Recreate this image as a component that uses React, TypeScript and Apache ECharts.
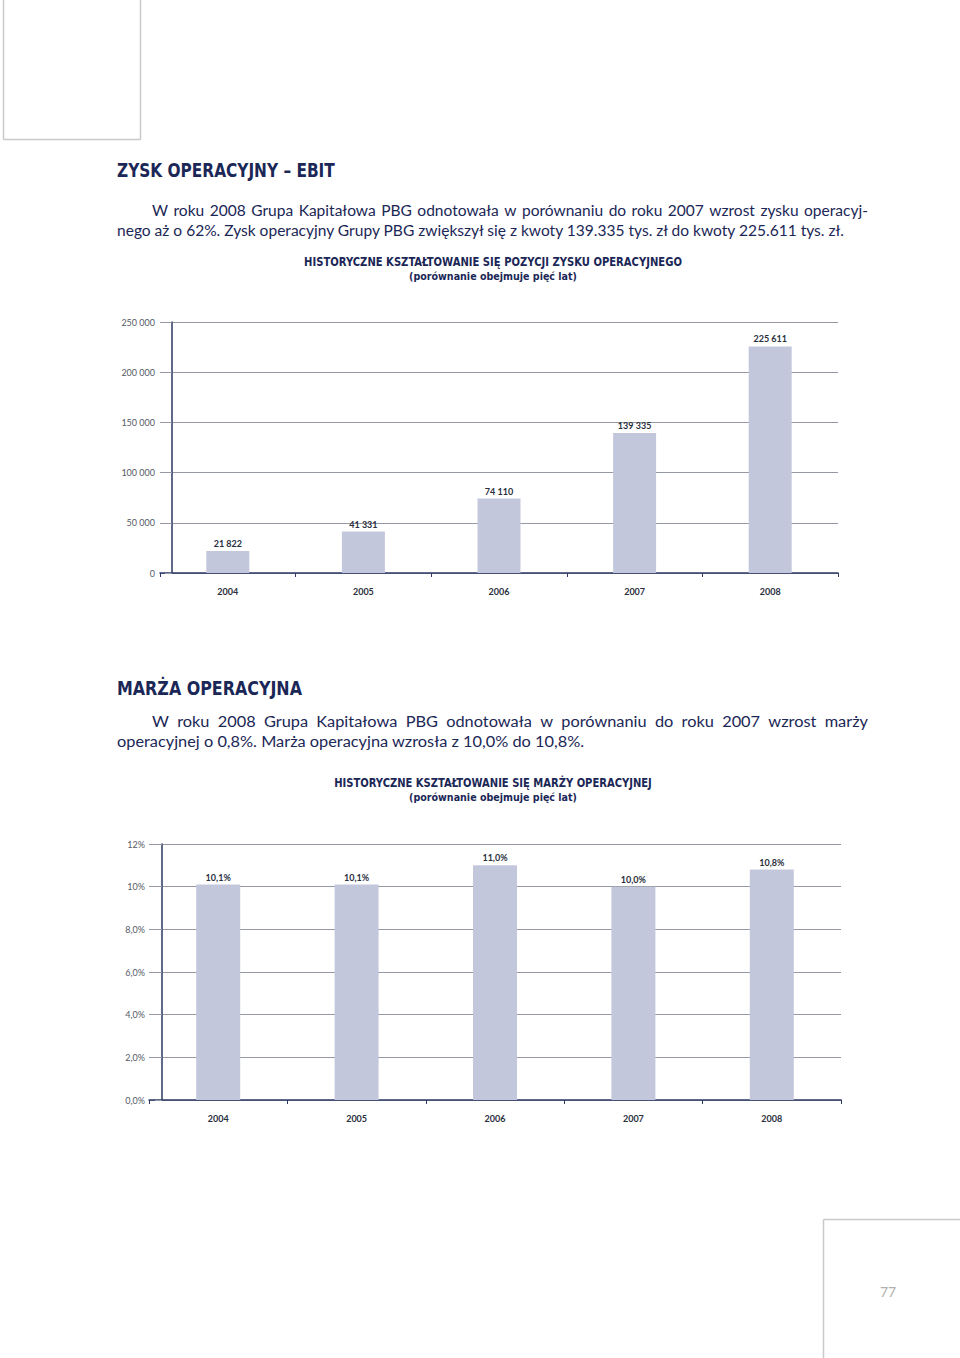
import React, { useEffect, useRef } from 'react';
import * as echarts from 'echarts';

// ---------- data ----------
const years = ['2004', '2005', '2006', '2007', '2008'];
const ebitValues = [21822, 41331, 74110, 139335, 225611];
const marginValues = [10.1, 10.1, 11.0, 10.0, 10.8];
const ebitAxis = { min: 0, max: 250000, step: 50000 };
const marginAxis = { min: 0, max: 12, step: 2 };

// ---------- texts ----------
const heading1 = 'ZYSK OPERACYJNY – EBIT';
const para1 = [
  'W roku 2008 Grupa Kapitałowa PBG odnotowała w porównaniu do roku 2007 wzrost zysku operacyj-',
  'nego aż o 62%. Zysk operacyjny Grupy PBG zwiększył się z kwoty 139.335 tys. zł do kwoty 225.611 tys. zł.',
];
const chart1Title = 'HISTORYCZNE KSZTAŁTOWANIE SIĘ POZYCJI ZYSKU OPERACYJNEGO';
const subtitle = '(porównanie obejmuje pięć lat)';
const heading2 = 'MARŻA OPERACYJNA';
const para2 = [
  'W roku 2008 Grupa Kapitałowa PBG odnotowała w porównaniu do roku 2007 wzrost marży',
  'operacyjnej o 0,8%. Marża operacyjna wzrosła z 10,0% do 10,8%.',
];
const chart2Title = 'HISTORYCZNE KSZTAŁTOWANIE SIĘ MARŻY OPERACYJNEJ';
const pageNumber = '77';

// ---------- styles ----------
const NAVY = '#1b2756';
const AXIS = '#2e3866';
const GRIDC = '#9499a3';
const BAR = '#c3c7db';
const HEAD_FAMILY = '"Liberation Sans Narrow", "DejaVu Sans Condensed", "Roboto Condensed", "Open Sans", sans-serif';
const BODY_FAMILY = 'Lato, "Open Sans", sans-serif';
const LABEL_FAMILY = 'Lato, "Open Sans", sans-serif';

type FontSpec = { size: number; weight: string; family: string };

let measureCtx: CanvasRenderingContext2D | null = null;
function measure(text: string, f: FontSpec): number {
  if (!measureCtx) measureCtx = document.createElement('canvas').getContext('2d');
  if (!measureCtx) return text.length * f.size * 0.5;
  measureCtx.font = `${f.weight} ${f.size}px ${f.family}`;
  return measureCtx.measureText(text).width;
}

function textEl(text: string, x: number, y: number, f: FontSpec, fill: string, align: string, scaleX = 1) {
  return {
    type: 'text',
    x,
    y,
    scaleX,
    silent: true,
    style: {
      text,
      fontSize: f.size,
      fontWeight: f.weight,
      fontFamily: f.family,
      fill,
      textAlign: align,
      verticalAlign: 'middle',
      textVerticalAlign: 'middle',
    },
  };
}

function fitLeft(text: string, x0: number, x1: number, y: number, f: FontSpec, fill: string) {
  const w = measure(text, f);
  return textEl(text, x0, y, f, fill, 'left', (x1 - x0) / w);
}

function fitCenter(text: string, cx: number, width: number, y: number, f: FontSpec, fill: string) {
  const w = measure(text, f);
  return textEl(text, cx, y, f, fill, 'center', width / w);
}

function justify(text: string, x0: number, x1: number, y: number, f: FontSpec, fill: string, s: number) {
  const words = text.split(' ');
  const widths = words.map((w) => measure(w, f) * s);
  const sum = widths.reduce((a, b) => a + b, 0);
  const gap = (x1 - x0 - sum) / (words.length - 1);
  const els: any[] = [];
  let x = x0;
  words.forEach((w, i) => {
    els.push(textEl(w, x, y, f, fill, 'left', s));
    x += widths[i] + gap;
  });
  return els;
}

function paragraph(lines: string[], indentX: number, leftX: number, rightX: number, lastEnd: number, y0: number, lh: number, f: FontSpec, fill: string) {
  const last = lines[lines.length - 1];
  const s = (lastEnd - leftX) / measure(last, f);
  const els: any[] = [];
  lines.forEach((line, i) => {
    const y = y0 + i * lh;
    const x0 = i === 0 ? indentX : leftX;
    if (i < lines.length - 1) {
      els.push(...justify(line, x0, rightX, y, f, fill, s));
    } else {
      els.push(textEl(line, x0, y, f, fill, 'left', s));
    }
  });
  return els;
}

const spaced = (v: number) => String(v).replace(/\B(?=(\d{3})+(?!\d))/g, ' ');
const pctAxis = (v: number) => (v >= 10 ? `${v}%` : `${v.toFixed(1).replace('.', ',')}%`);
const pctLabel = (v: number) => `${v.toFixed(1).replace('.', ',')}%`;

function buildOption() {
  const headF: FontSpec = { size: 20, weight: 'bold', family: HEAD_FAMILY };
  const bodyF: FontSpec = { size: 16, weight: 'normal', family: BODY_FAMILY };
  const ctF: FontSpec = { size: 12, weight: 'bold', family: HEAD_FAMILY };
  const subF: FontSpec = { size: 11, weight: 'bold', family: HEAD_FAMILY };

  const graphics: any[] = [
    // page frames
    { type: 'line', silent: true, shape: { x1: 3.5, y1: 0, x2: 3.5, y2: 139.5 }, style: { stroke: '#c9c9c9', lineWidth: 1.5 } },
    { type: 'line', silent: true, shape: { x1: 3.5, y1: 139.5, x2: 140.5, y2: 139.5 }, style: { stroke: '#c9c9c9', lineWidth: 1.5 } },
    { type: 'line', silent: true, shape: { x1: 140.5, y1: 0, x2: 140.5, y2: 139.5 }, style: { stroke: '#c9c9c9', lineWidth: 1.5 } },
    { type: 'line', silent: true, shape: { x1: 823.5, y1: 1219.5, x2: 960, y2: 1219.5 }, style: { stroke: '#c9c9c9', lineWidth: 1.5 } },
    { type: 'line', silent: true, shape: { x1: 823.5, y1: 1219.5, x2: 823.5, y2: 1358 }, style: { stroke: '#c9c9c9', lineWidth: 1.5 } },
    textEl(pageNumber, 888, 1291, { size: 14, weight: 'normal', family: BODY_FAMILY }, '#b0b0b0', 'center'),

    fitLeft(heading1, 117, 335, 170, headF, NAVY),
    ...paragraph(para1, 152, 117, 868, 847, 209, 20, bodyF, NAVY),
    fitCenter(chart1Title, 493, 378, 262, ctF, NAVY),
    fitCenter(subtitle, 493, 168, 276, subF, NAVY),

    fitLeft(heading2, 117, 302, 688, headF, NAVY),
    ...paragraph(para2, 152, 117, 868, 585, 721, 20, bodyF, NAVY),
    fitCenter(chart2Title, 493, 318, 783, ctF, NAVY),
    fitCenter(subtitle, 493, 168, 797, subF, NAVY),
  ];

  const xAxisBase = (gridIndex: number) => ({
    type: 'category',
    gridIndex,
    data: years,
    axisLine: { show: true, lineStyle: { color: AXIS, width: 1.5 } },
    axisTick: { show: true, length: 4, lineStyle: { color: AXIS, width: 1 } },
    axisLabel: { margin: 14, fontSize: 9, fontWeight: 'bold', fontFamily: LABEL_FAMILY, color: '#2a2f3d' },
    splitLine: { show: false },
  });

  const yAxisBase = (gridIndex: number, ax: { min: number; max: number; step: number }, offset: number, fmt: (v: number) => string) => ({
    type: 'value',
    gridIndex,
    min: ax.min,
    max: ax.max,
    interval: ax.step,
    offset,
    axisLine: { show: true, lineStyle: { color: AXIS, width: 1.5 } },
    axisTick: { show: true, length: 7, lineStyle: { color: GRIDC, width: 1 } },
    axisLabel: { margin: 17, fontSize: 9, fontFamily: LABEL_FAMILY, color: '#555a66', formatter: fmt },
    splitLine: { show: true, lineStyle: { color: GRIDC, width: 1 } },
  });

  return {
    animation: false,
    backgroundColor: '#ffffff',
    grid: [
      { left: 160, top: 322, width: 678, height: 251 },
      { left: 149, top: 844, width: 692, height: 256 },
    ],
    xAxis: [xAxisBase(0), xAxisBase(1)],
    yAxis: [
      yAxisBase(0, ebitAxis, -12, (v: number) => spaced(v)),
      yAxisBase(1, marginAxis, -13, pctAxis),
    ],
    series: [
      {
        type: 'bar',
        xAxisIndex: 0,
        yAxisIndex: 0,
        data: ebitValues,
        barWidth: 43,
        itemStyle: { color: BAR },
        label: {
          show: true,
          position: 'top',
          distance: 3,
          fontSize: 9,
          fontWeight: 'bold',
          fontFamily: LABEL_FAMILY,
          color: '#2a2f3d',
          formatter: (p: any) => spaced(p.value),
        },
      },
      {
        type: 'bar',
        xAxisIndex: 1,
        yAxisIndex: 1,
        data: marginValues,
        barWidth: 44,
        itemStyle: { color: BAR },
        label: {
          show: true,
          position: 'top',
          distance: 3,
          fontSize: 9,
          fontWeight: 'bold',
          fontFamily: LABEL_FAMILY,
          color: '#2a2f3d',
          formatter: (p: any) => pctLabel(p.value),
        },
      },
    ],
    graphic: graphics,
  };
}

export default function App() {
  const ref = useRef<HTMLDivElement>(null);
  useEffect(() => {
    if (!ref.current) return;
    const chart = echarts.init(ref.current, null, { renderer: 'svg', width: 960, height: 1358 });
    chart.setOption(buildOption() as any);
    return () => chart.dispose();
  }, []);
  return (
    <div
      ref={ref}
      style={{ position: 'absolute', left: 0, top: 0, width: 960, height: 1358, background: '#fff' }}
    />
  );
}
